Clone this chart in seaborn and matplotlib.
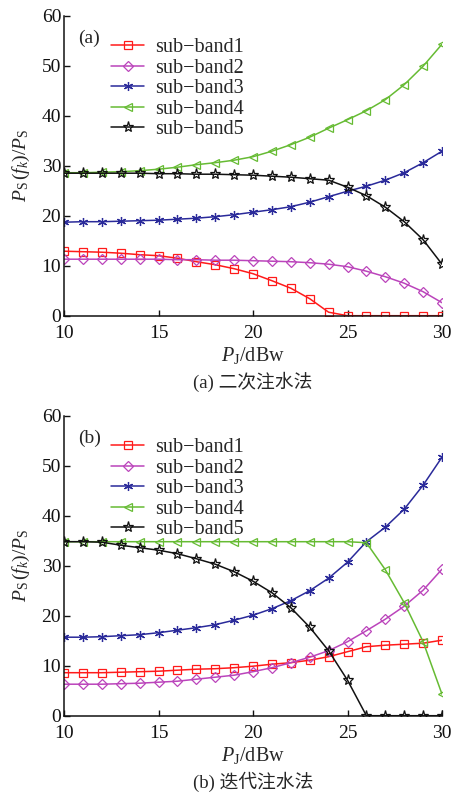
import matplotlib
matplotlib.use("Agg")
import matplotlib.pyplot as plt
import seaborn as sns
import numpy as np
import pandas as pd

sns.set_theme(style="ticks")
plt.rcParams['font.family'] = ['Liberation Serif', 'Noto Sans CJK SC', 'DejaVu Sans']
plt.rcParams['mathtext.fontset'] = 'custom'
plt.rcParams['mathtext.rm'] = 'Liberation Serif'
plt.rcParams['mathtext.it'] = 'Liberation Serif:italic'

x_vals = list(range(10, 31))
labels = ["sub\u2212band1", "sub\u2212band2", "sub\u2212band3", "sub\u2212band4", "sub\u2212band5"]

# (a) 二次注水法
a_band1 = [12.9, 12.8, 12.7, 12.5, 12.2, 12.0, 11.5, 10.8, 10.2, 9.4, 8.4, 7.0, 5.5, 3.4, 0.7, 0, 0, 0, 0, 0, 0]
a_band2 = [11.3, 11.3, 11.3, 11.3, 11.3, 11.3, 11.2, 11.2, 11.1, 11.1, 11.0, 10.9, 10.8, 10.6, 10.3, 9.8, 8.9, 7.8, 6.5, 4.8, 2.6]
a_band3 = [18.7, 18.8, 18.8, 18.9, 19.0, 19.1, 19.3, 19.5, 19.8, 20.2, 20.7, 21.2, 21.8, 22.7, 23.8, 24.9, 25.9, 27.1, 28.6, 30.6, 32.9]
a_band4 = [28.6, 28.6, 28.7, 28.8, 29.0, 29.3, 29.7, 30.2, 30.6, 31.1, 31.8, 32.9, 34.2, 35.7, 37.5, 39.2, 41.0, 43.2, 46.2, 49.9, 54.3]
a_band5 = [28.5, 28.5, 28.5, 28.5, 28.5, 28.4, 28.4, 28.3, 28.3, 28.2, 28.1, 27.9, 27.7, 27.4, 27.1, 25.7, 24.0, 21.7, 18.8, 15.2, 10.3]

# (b) 迭代注水法
b_band1 = [8.6, 8.6, 8.6, 8.7, 8.8, 8.9, 9.1, 9.3, 9.4, 9.6, 9.9, 10.3, 10.6, 11.1, 11.8, 12.8, 13.8, 14.1, 14.3, 14.5, 15.1]
b_band2 = [6.3, 6.3, 6.3, 6.4, 6.5, 6.7, 6.9, 7.3, 7.7, 8.1, 8.8, 9.6, 10.6, 11.7, 13.0, 14.8, 17.0, 19.3, 21.9, 25.1, 29.3]
b_band3 = [15.7, 15.7, 15.8, 16.0, 16.2, 16.6, 17.1, 17.6, 18.2, 19.1, 20.1, 21.4, 23.0, 25.0, 27.5, 30.7, 34.8, 37.7, 41.3, 46.1, 51.7]
b_band4 = [34.8, 34.8, 34.8, 34.8, 34.8, 34.8, 34.8, 34.8, 34.8, 34.8, 34.8, 34.8, 34.8, 34.8, 34.8, 34.8, 34.6, 29.2, 22.6, 14.8, 4.3]
b_band5 = [34.8, 34.8, 34.7, 34.1, 33.6, 33.1, 32.4, 31.4, 30.3, 28.8, 26.9, 24.6, 21.6, 17.7, 13.0, 7.1, 0, 0, 0, 0, 0]

xticks = [10, 15, 20, 25, 30]
yticks = [0, 10, 20, 30, 40, 50, 60]

colors = ['#ff1a1a', '#bb44bb', '#2a2a9a', '#66bb33', '#111111']
markers = ['s', 'D', (6, 2, 0), '<', '*']
msizes = [5.2, 4.6, 6.5, 5.8, 8.0]

W, H = 454, 793
fig = plt.figure(figsize=(W / 100, H / 100), dpi=100)

def make_axes(top_px, bottom_px):
    return fig.add_axes([64 / W, 1 - bottom_px / H, 378 / W, (bottom_px - top_px) / H])

panels = [
    (make_axes(15.7, 315.7), [a_band1, a_band2, a_band3, a_band4, a_band5], "(a)", "(a) 二次注水法"),
    (make_axes(415.7, 715.7), [b_band1, b_band2, b_band3, b_band4, b_band5], "(b)", "(b) 迭代注水法"),
]

fs = 14
for ax, series, tag, caption in panels:
    for vals, lab, c, m, ms in zip(series, labels, colors, markers, msizes):
        df = pd.DataFrame({"x": x_vals, "y": vals})
        sns.lineplot(data=df, x="x", y="y", ax=ax, color=c, marker=m, markersize=ms,
                     markerfacecolor='none', markeredgecolor=c, markeredgewidth=0.9,
                     linewidth=1.1, label=lab, errorbar=None)
    ax.set_xlim(10, 30)
    ax.set_ylim(0, 60)
    ax.set_xticks(xticks)
    ax.set_yticks(yticks)
    ax.tick_params(direction='in', length=4, width=1, labelsize=fs, colors='#111111')
    ax.tick_params(axis='x', pad=6.5)
    ax.tick_params(axis='y', pad=2)
    for sp in ['top', 'right']:
        ax.spines[sp].set_visible(False)
    for sp in ['left', 'bottom']:
        ax.spines[sp].set_linewidth(1.1)
        ax.spines[sp].set_color('#111111')
    for lbl in ax.get_xticklabels() + ax.get_yticklabels():
        lbl.set_clip_on(False)
    ax.set_xlabel(r"$P_{\rm J}$/dBw", fontsize=fs + 0.5, labelpad=2)
    ax.set_ylabel(r"$P_{\rm S}\,(f_k)/P_{\rm S}$", fontsize=fs, labelpad=7)
    ax.text(0.038, 0.925, tag, transform=ax.transAxes, fontsize=fs, va='center', ha='left')
    ax.text(0.5, -0.222, caption, transform=ax.transAxes, fontsize=fs - 0.5, va='center', ha='center',
            family=['Liberation Serif', 'Noto Sans CJK SC'])
    leg = ax.legend(loc='upper left', bbox_to_anchor=(0.125, 0.925), frameon=False, fontsize=fs + 0.5,
                    handlelength=1.65, handletextpad=0.55, labelspacing=0.07, borderaxespad=0, borderpad=0)

fig.savefig("out.png", dpi=100)
